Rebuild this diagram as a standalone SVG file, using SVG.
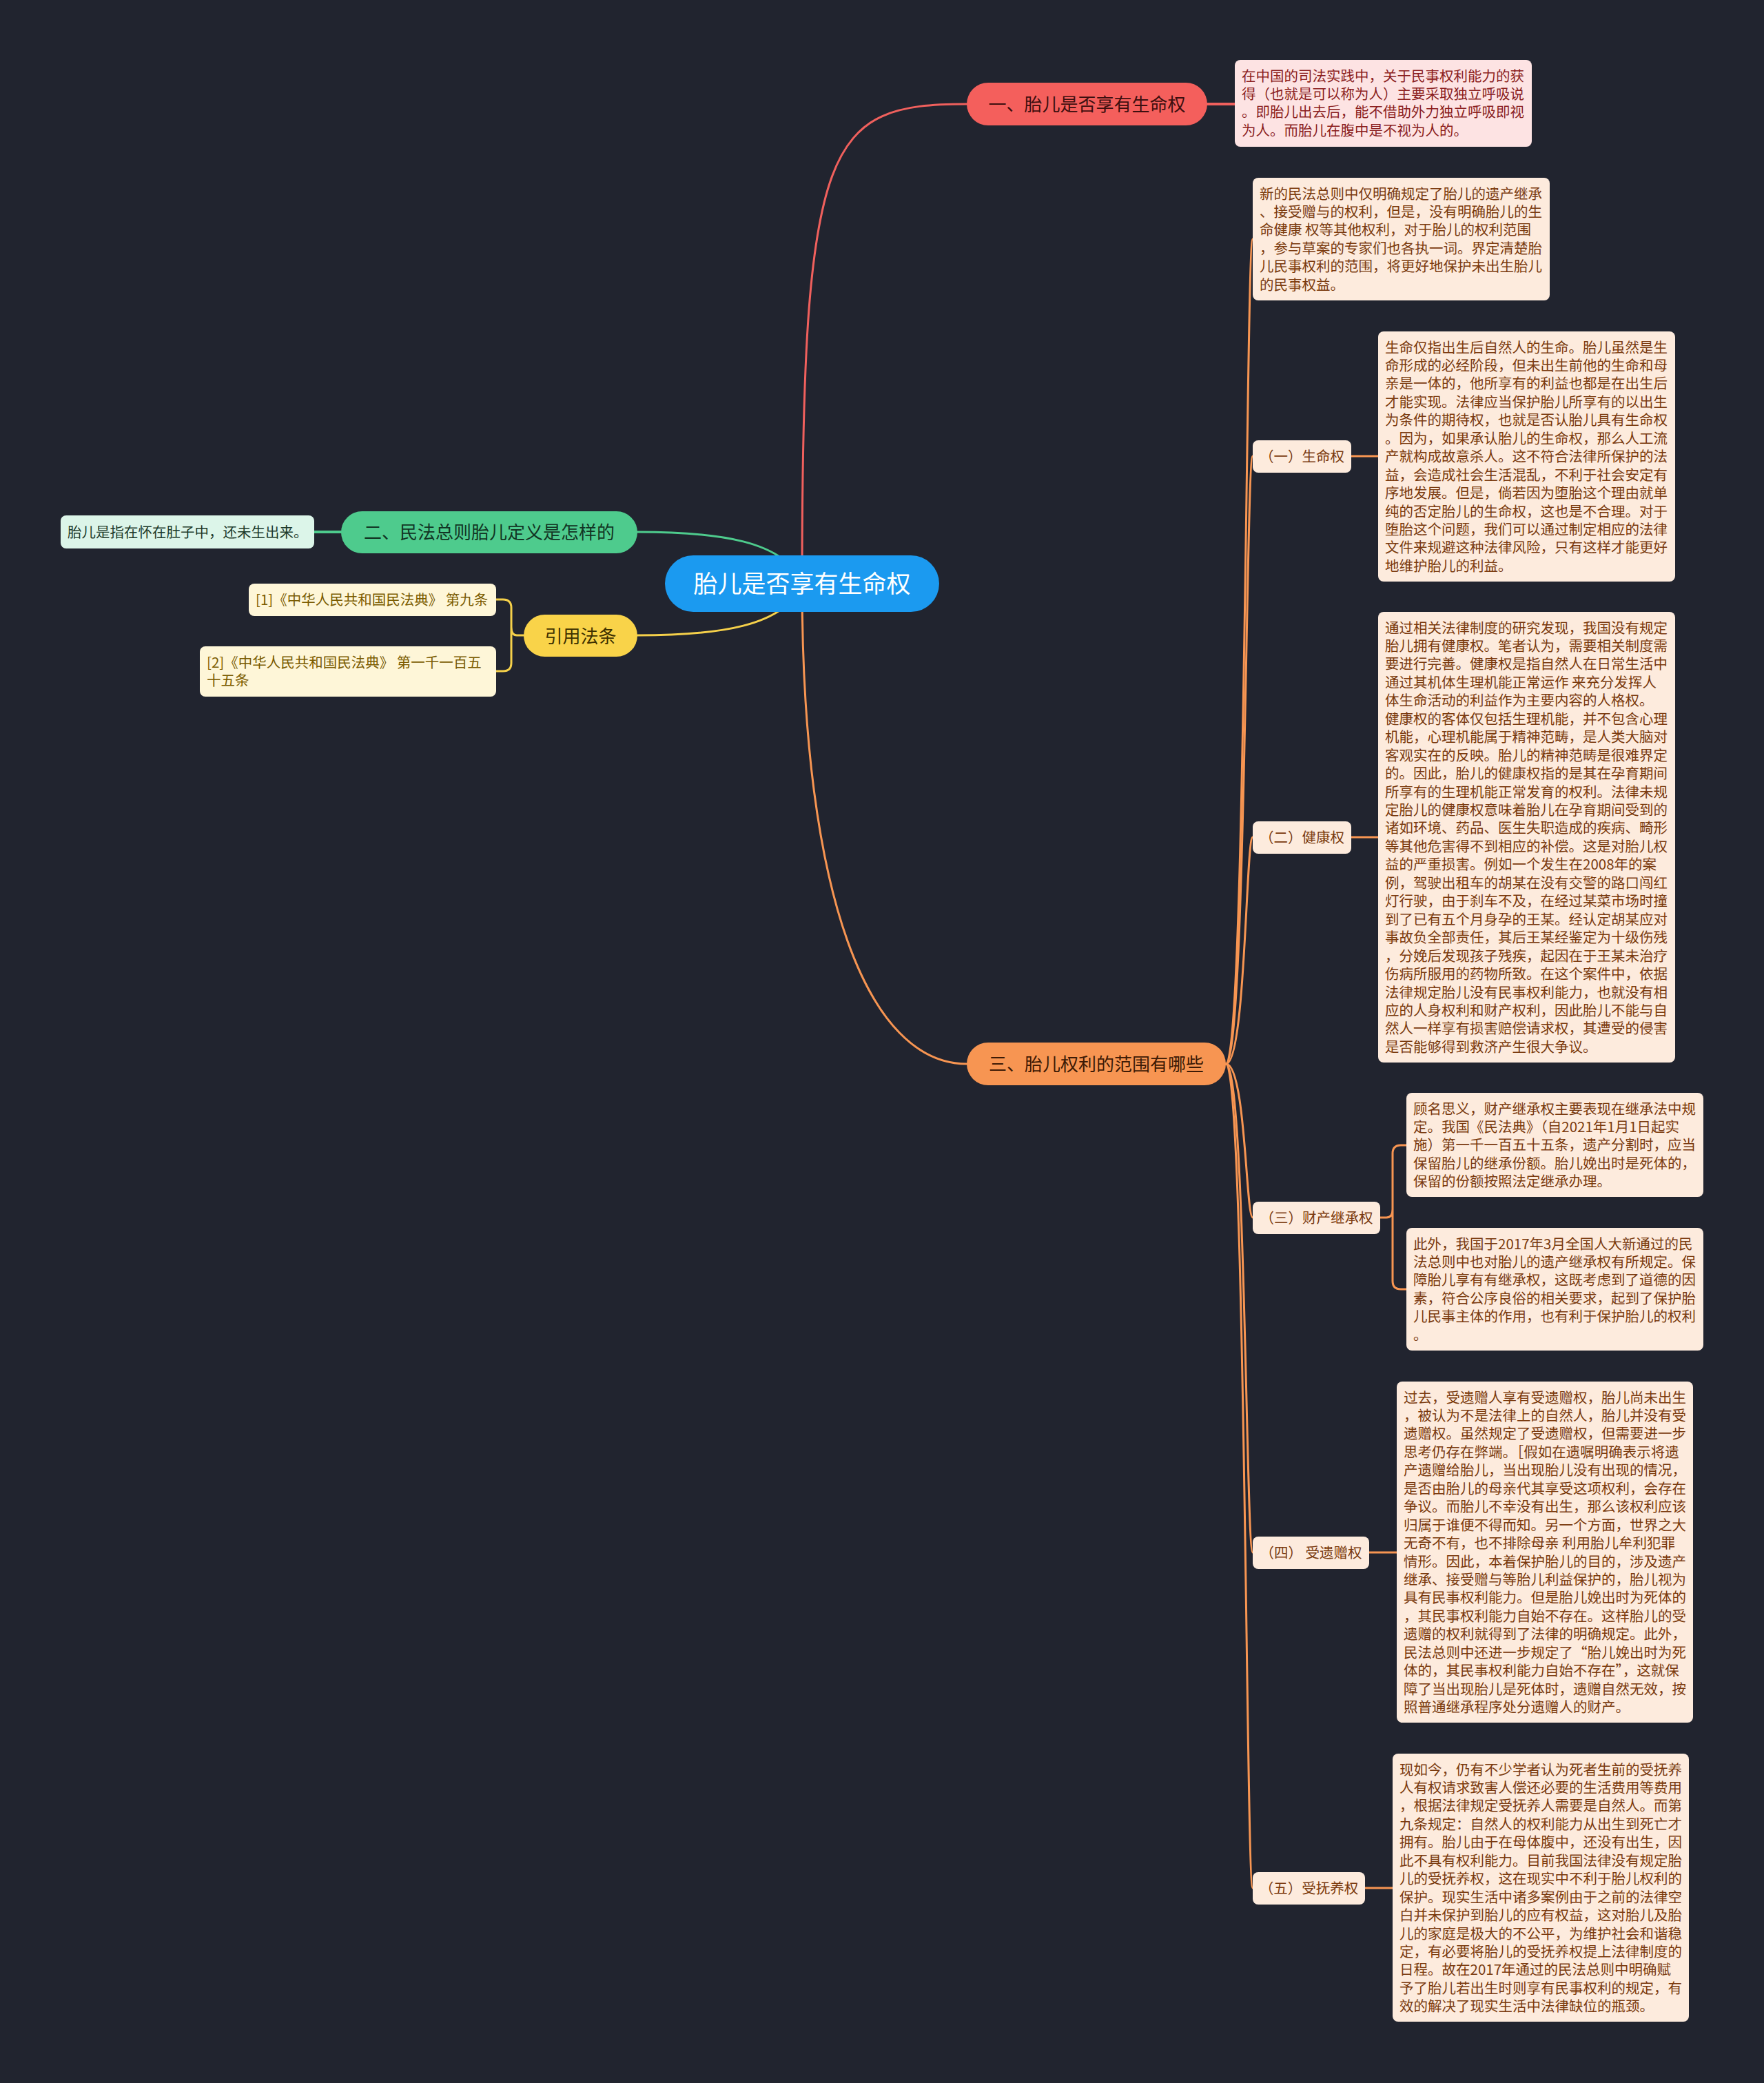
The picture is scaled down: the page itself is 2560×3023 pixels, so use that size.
<svg xmlns="http://www.w3.org/2000/svg" width="2560" height="3023" viewBox="0 0 2560 3023">
<style>
.t{font-family:"Noto Sans CJK SC","Noto Sans",sans-serif}
.b{font-size:20.5px}
.n1{font-size:26px;text-anchor:middle}
.n2{font-size:20.5px;text-anchor:middle;fill:#7a3a0e}
.cr{fill:none;stroke-linecap:round}
.or{stroke:#f79552;stroke-width:3}
.obox{fill:#fdebdd}
.otx{fill:#7a3a0e}
</style>
<rect width="2560" height="3023" fill="#21242f"/>
<g id="connectors" class="cr">
<path d="M1164,847 C1164,200 1200,151 1403,151" stroke="#f0605d" stroke-width="3"/>
<path d="M1752,151 H1792" stroke="#f0605d" stroke-width="4"/>
<path d="M1164,847 C1140,784 1040,772 925,772" stroke="#4ecb8d" stroke-width="3"/>
<path d="M495,772 H456" stroke="#4ecb8d" stroke-width="4"/>
<path d="M1164,847 C1140,910 1040,922 925,922" stroke="#f5d04a" stroke-width="3"/>
<path d="M760,922 H750 Q742,922 742,910 V882 Q742,870 730,870 H720 M742,910 V962 Q742,974 730,974 H720" stroke="#f5d04a" stroke-width="3"/>
<path d="M1164,847 C1164,1300 1260,1544 1403,1544" class="or"/>
<path d="M1779,1544 C1808,1544 1808,347 1818,347" class="or"/>
<path d="M1779,1544 C1808,1544 1808,662 1818,662" class="or"/>
<path d="M1779,1544 C1808,1544 1808,1215 1818,1215" class="or"/>
<path d="M1779,1544 C1808,1544 1808,1767 1818,1767" class="or"/>
<path d="M1779,1544 C1808,1544 1808,2253 1818,2253" class="or"/>
<path d="M1779,1544 C1808,1544 1808,2740 1818,2740" class="or"/>
<path d="M1961,662 H2000 M1961,1215 H2000 M1987,2253 H2027 M1981,2740 H2021" class="or"/>
<path d="M2003,1767 H2012 Q2021,1767 2021,1755 V1674 Q2021,1662 2033,1662 H2041 M2021,1755 V1859 Q2021,1871 2033,1871 H2041" class="or"/>
</g>
<g id="root">
<rect x="965" y="806" width="398" height="82" rx="41" fill="#1b9af0"/>
<text class="t" x="1164" y="860" font-size="35" text-anchor="middle" fill="#ffffff">胎儿是否享有生命权</text>
</g>
<g id="b1">
<rect x="1403" y="120" width="349" height="62" rx="31" fill="#f45f5c"/>
<text class="t n1" x="1577.5" y="161" fill="#3d0f0f">一、胎儿是否享有生命权</text>
</g>
<g id="b1-1">
<rect x="1792" y="87" width="431" height="126" rx="8" fill="#fde3e3"/>
<text class="t b" x="1802" y="117.5" fill="#8b1e1e"><tspan x="1802">在中国的司法实践中，关于民事权利能力的获</tspan><tspan x="1802" dy="26.45">得（也就是可以称为人）主要采取独立呼吸说</tspan><tspan x="1802" dy="26.45">。即胎儿出去后，能不借助外力独立呼吸即视</tspan><tspan x="1802" dy="26.45">为人。而胎儿在腹中是不视为人的。</tspan></text>
</g>
<g id="b2">
<rect x="495" y="742" width="430" height="61" rx="30.5" fill="#4ecb8d"/>
<text class="t n1" x="710" y="782" fill="#123524">二、民法总则胎儿定义是怎样的</text>
</g>
<g id="b2-1">
<rect x="88" y="748" width="368" height="48" rx="8" fill="#dcf5e9"/>
<text class="t b" x="98" y="780" fill="#1c3a2a">胎儿是指在怀在肚子中，还未生出来。</text>
</g>
<g id="b4">
<rect x="760" y="892" width="165" height="61" rx="30.5" fill="#f9d349"/>
<text class="t n1" x="842.5" y="932.5" fill="#3d3000">引用法条</text>
</g>
<g id="b4-1">
<rect x="361" y="847" width="359" height="47" rx="8" fill="#fef6d8"/>
<text class="t b" x="371" y="878" fill="#7a5b00">[1]《中华人民共和国民法典》 第九条</text>
</g>
<g id="b4-2">
<rect x="290" y="938" width="430" height="73" rx="8" fill="#fef6d8"/>
<text class="t b" x="300" y="968.5" fill="#7a5b00"><tspan x="300">[2]《中华人民共和国民法典》 第一千一百五</tspan><tspan x="300" dy="26.45">十五条</tspan></text>
</g>
<g id="b3">
<rect x="1403" y="1513" width="376" height="62" rx="31" fill="#f79552"/>
<text class="t n1" x="1591" y="1554" fill="#3d1a05">三、胎儿权利的范围有哪些</text>
</g>
<g id="b3-0">
<rect x="1818" y="258" width="431" height="178" rx="8" class="obox"/>
<text class="t b otx" x="1828" y="288.5"><tspan x="1828">新的民法总则中仅明确规定了胎儿的遗产继承</tspan><tspan x="1828" dy="26.45">、接受赠与的权利，但是，没有明确胎儿的生</tspan><tspan x="1828" dy="26.45">命健康 权等其他权利，对于胎儿的权利范围</tspan><tspan x="1828" dy="26.45">，参与草案的专家们也各执一词。界定清楚胎</tspan><tspan x="1828" dy="26.45">儿民事权利的范围，将更好地保护未出生胎儿</tspan><tspan x="1828" dy="26.45">的民事权益。</tspan></text>
</g>
<g id="b3-1">
<rect x="1818" y="639" width="143" height="47" rx="8" class="obox"/>
<text class="t n2" x="1889.5" y="670">（一）生命权</text>
</g>
<g id="b3-1-1">
<rect x="2000" y="481" width="431" height="363" rx="8" class="obox"/>
<text class="t b otx" x="2010" y="511.5"><tspan x="2010">生命仅指出生后自然人的生命。胎儿虽然是生</tspan><tspan x="2010" dy="26.45">命形成的必经阶段，但未出生前他的生命和母</tspan><tspan x="2010" dy="26.45">亲是一体的，他所享有的利益也都是在出生后</tspan><tspan x="2010" dy="26.45">才能实现。法律应当保护胎儿所享有的以出生</tspan><tspan x="2010" dy="26.45">为条件的期待权，也就是否认胎儿具有生命权</tspan><tspan x="2010" dy="26.45">。因为，如果承认胎儿的生命权，那么人工流</tspan><tspan x="2010" dy="26.45">产就构成故意杀人。这不符合法律所保护的法</tspan><tspan x="2010" dy="26.45">益，会造成社会生活混乱，不利于社会安定有</tspan><tspan x="2010" dy="26.45">序地发展。但是，倘若因为堕胎这个理由就单</tspan><tspan x="2010" dy="26.45">纯的否定胎儿的生命权，这也是不合理。对于</tspan><tspan x="2010" dy="26.45">堕胎这个问题，我们可以通过制定相应的法律</tspan><tspan x="2010" dy="26.45">文件来规避这种法律风险，只有这样才能更好</tspan><tspan x="2010" dy="26.45">地维护胎儿的利益。</tspan></text>
</g>
<g id="b3-2">
<rect x="1818" y="1192" width="143" height="47" rx="8" class="obox"/>
<text class="t n2" x="1889.5" y="1223">（二）健康权</text>
</g>
<g id="b3-2-1">
<rect x="2000" y="888" width="431" height="654" rx="8" class="obox"/>
<text class="t b otx" x="2010" y="918.5"><tspan x="2010">通过相关法律制度的研究发现，我国没有规定</tspan><tspan x="2010" dy="26.45">胎儿拥有健康权。笔者认为，需要相关制度需</tspan><tspan x="2010" dy="26.45">要进行完善。健康权是指自然人在日常生活中</tspan><tspan x="2010" dy="26.45">通过其机体生理机能正常运作 来充分发挥人</tspan><tspan x="2010" dy="26.45">体生命活动的利益作为主要内容的人格权。</tspan><tspan x="2010" dy="26.45">健康权的客体仅包括生理机能，并不包含心理</tspan><tspan x="2010" dy="26.45">机能，心理机能属于精神范畴，是人类大脑对</tspan><tspan x="2010" dy="26.45">客观实在的反映。胎儿的精神范畴是很难界定</tspan><tspan x="2010" dy="26.45">的。因此，胎儿的健康权指的是其在孕育期间</tspan><tspan x="2010" dy="26.45">所享有的生理机能正常发育的权利。法律未规</tspan><tspan x="2010" dy="26.45">定胎儿的健康权意味着胎儿在孕育期间受到的</tspan><tspan x="2010" dy="26.45">诸如环境、药品、医生失职造成的疾病、畸形</tspan><tspan x="2010" dy="26.45">等其他危害得不到相应的补偿。这是对胎儿权</tspan><tspan x="2010" dy="26.45">益的严重损害。例如一个发生在2008年的案</tspan><tspan x="2010" dy="26.45">例，驾驶出租车的胡某在没有交警的路口闯红</tspan><tspan x="2010" dy="26.45">灯行驶，由于刹车不及，在经过某菜市场时撞</tspan><tspan x="2010" dy="26.45">到了已有五个月身孕的王某。经认定胡某应对</tspan><tspan x="2010" dy="26.45">事故负全部责任，其后王某经鉴定为十级伤残</tspan><tspan x="2010" dy="26.45">，分娩后发现孩子残疾，起因在于王某未治疗</tspan><tspan x="2010" dy="26.45">伤病所服用的药物所致。在这个案件中，依据</tspan><tspan x="2010" dy="26.45">法律规定胎儿没有民事权利能力，也就没有相</tspan><tspan x="2010" dy="26.45">应的人身权利和财产权利，因此胎儿不能与自</tspan><tspan x="2010" dy="26.45">然人一样享有损害赔偿请求权，其遭受的侵害</tspan><tspan x="2010" dy="26.45">是否能够得到救济产生很大争议。</tspan></text>
</g>
<g id="b3-3">
<rect x="1818" y="1744" width="185" height="47" rx="8" class="obox"/>
<text class="t n2" x="1910.5" y="1775">（三）财产继承权</text>
</g>
<g id="b3-3-1">
<rect x="2041" y="1586" width="431" height="151" rx="8" class="obox"/>
<text class="t b otx" x="2051" y="1616.5"><tspan x="2051">顾名思义，财产继承权主要表现在继承法中规</tspan><tspan x="2051" dy="26.45">定。我国《民法典》（自2021年1月1日起实</tspan><tspan x="2051" dy="26.45">施）第一千一百五十五条，遗产分割时，应当</tspan><tspan x="2051" dy="26.45">保留胎儿的继承份额。胎儿娩出时是死体的，</tspan><tspan x="2051" dy="26.45">保留的份额按照法定继承办理。</tspan></text>
</g>
<g id="b3-3-2">
<rect x="2041" y="1782" width="431" height="178" rx="8" class="obox"/>
<text class="t b otx" x="2051" y="1812.5"><tspan x="2051">此外，我国于2017年3月全国人大新通过的民</tspan><tspan x="2051" dy="26.45">法总则中也对胎儿的遗产继承权有所规定。保</tspan><tspan x="2051" dy="26.45">障胎儿享有有继承权，这既考虑到了道德的因</tspan><tspan x="2051" dy="26.45">素，符合公序良俗的相关要求，起到了保护胎</tspan><tspan x="2051" dy="26.45">儿民事主体的作用，也有利于保护胎儿的权利</tspan><tspan x="2051" dy="26.45">。</tspan></text>
</g>
<g id="b3-4">
<rect x="1818" y="2230" width="169" height="47" rx="8" class="obox"/>
<text class="t n2" x="1902.5" y="2261">（四） 受遗赠权</text>
</g>
<g id="b3-4-1">
<rect x="2027" y="2005" width="430" height="495" rx="8" class="obox"/>
<text class="t b otx" x="2037" y="2035.5"><tspan x="2037">过去，受遗赠人享有受遗赠权，胎儿尚未出生</tspan><tspan x="2037" dy="26.45">，被认为不是法律上的自然人，胎儿并没有受</tspan><tspan x="2037" dy="26.45">遗赠权。虽然规定了受遗赠权，但需要进一步</tspan><tspan x="2037" dy="26.45">思考仍存在弊端。［假如在遗嘱明确表示将遗</tspan><tspan x="2037" dy="26.45">产遗赠给胎儿，当出现胎儿没有出现的情况，</tspan><tspan x="2037" dy="26.45">是否由胎儿的母亲代其享受这项权利，会存在</tspan><tspan x="2037" dy="26.45">争议。而胎儿不幸没有出生，那么该权利应该</tspan><tspan x="2037" dy="26.45">归属于谁便不得而知。另一个方面，世界之大</tspan><tspan x="2037" dy="26.45">无奇不有，也不排除母亲 利用胎儿牟利犯罪</tspan><tspan x="2037" dy="26.45">情形。因此，本着保护胎儿的目的，涉及遗产</tspan><tspan x="2037" dy="26.45">继承、接受赠与等胎儿利益保护的，胎儿视为</tspan><tspan x="2037" dy="26.45">具有民事权利能力。但是胎儿娩出时为死体的</tspan><tspan x="2037" dy="26.45">，其民事权利能力自始不存在。这样胎儿的受</tspan><tspan x="2037" dy="26.45">遗赠的权利就得到了法律的明确规定。此外，</tspan><tspan x="2037" dy="26.45">民法总则中还进一步规定了“胎儿娩出时为死</tspan><tspan x="2037" dy="26.45">体的，其民事权利能力自始不存在”，这就保</tspan><tspan x="2037" dy="26.45">障了当出现胎儿是死体时，遗赠自然无效，按</tspan><tspan x="2037" dy="26.45">照普通继承程序处分遗赠人的财产。</tspan></text>
</g>
<g id="b3-5">
<rect x="1818" y="2717" width="163" height="47" rx="8" class="obox"/>
<text class="t n2" x="1899.5" y="2748">（五）受抚养权</text>
</g>
<g id="b3-5-1">
<rect x="2021" y="2545" width="430" height="389" rx="8" class="obox"/>
<text class="t b otx" x="2031" y="2575.5"><tspan x="2031">现如今，仍有不少学者认为死者生前的受抚养</tspan><tspan x="2031" dy="26.45">人有权请求致害人偿还必要的生活费用等费用</tspan><tspan x="2031" dy="26.45">，根据法律规定受抚养人需要是自然人。而第</tspan><tspan x="2031" dy="26.45">九条规定：自然人的权利能力从出生到死亡才</tspan><tspan x="2031" dy="26.45">拥有。胎儿由于在母体腹中，还没有出生，因</tspan><tspan x="2031" dy="26.45">此不具有权利能力。目前我国法律没有规定胎</tspan><tspan x="2031" dy="26.45">儿的受抚养权，这在现实中不利于胎儿权利的</tspan><tspan x="2031" dy="26.45">保护。现实生活中诸多案例由于之前的法律空</tspan><tspan x="2031" dy="26.45">白并未保护到胎儿的应有权益，这对胎儿及胎</tspan><tspan x="2031" dy="26.45">儿的家庭是极大的不公平，为维护社会和谐稳</tspan><tspan x="2031" dy="26.45">定，有必要将胎儿的受抚养权提上法律制度的</tspan><tspan x="2031" dy="26.45">日程。故在2017年通过的民法总则中明确赋</tspan><tspan x="2031" dy="26.45">予了胎儿若出生时则享有民事权利的规定，有</tspan><tspan x="2031" dy="26.45">效的解决了现实生活中法律缺位的瓶颈。</tspan></text>
</g>
</svg>
